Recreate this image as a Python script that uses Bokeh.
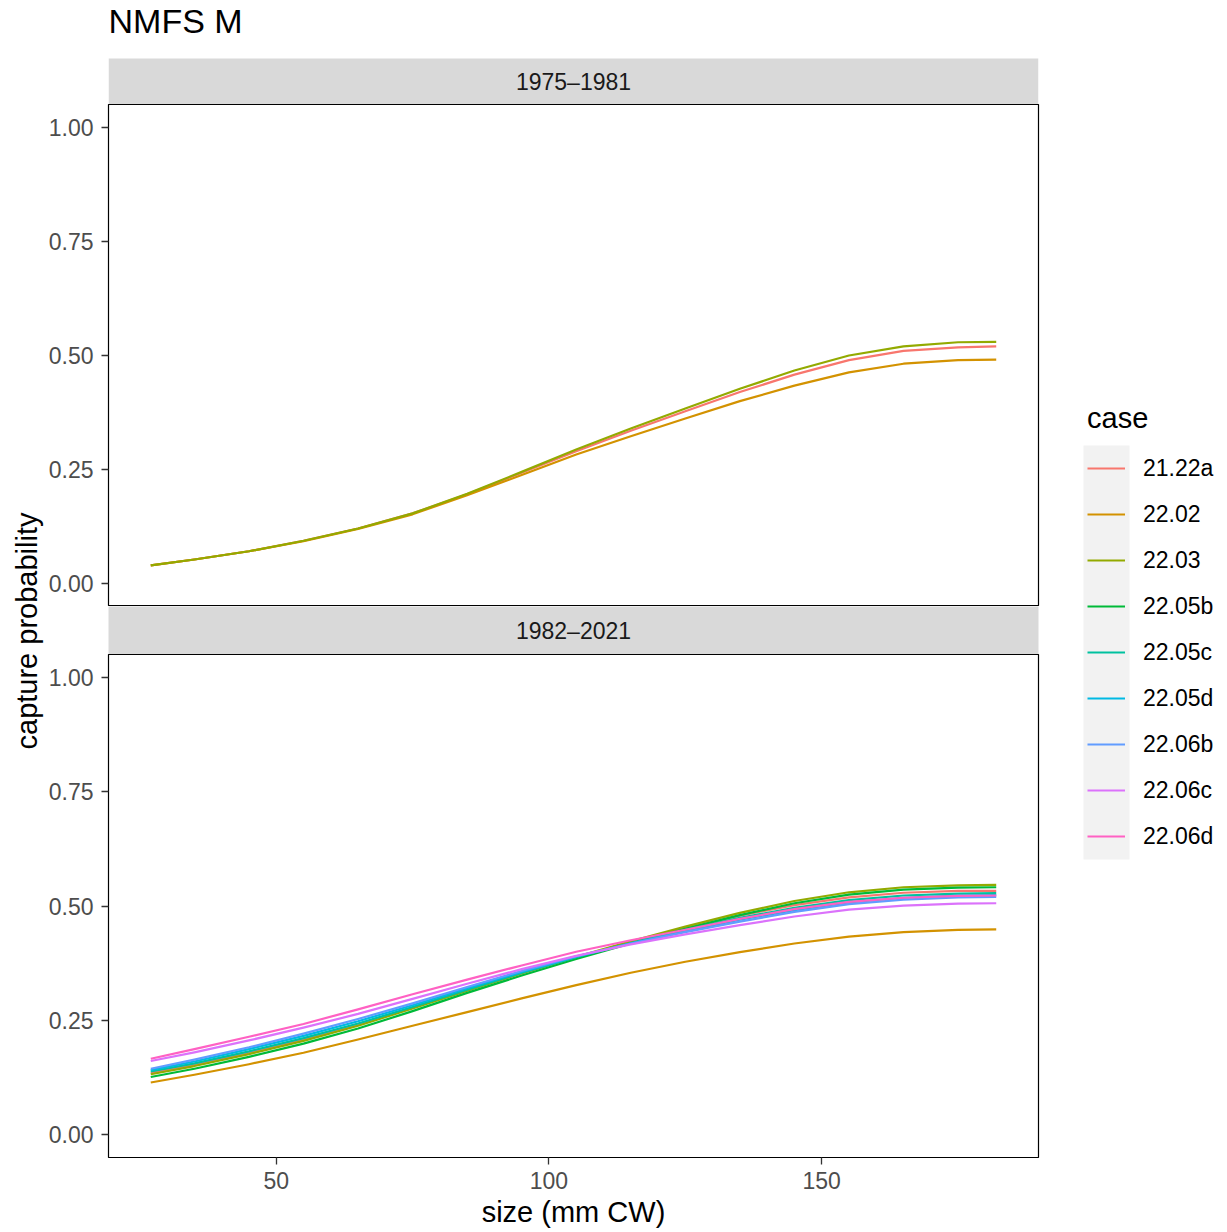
import math
from bokeh.plotting import figure
from bokeh.models import (ColumnDataSource, FixedTicker, PrintfTickFormatter,
                          Range1d, Legend, LegendItem)
from bokeh.layouts import row, column
from bokeh.embed import file_html
from bokeh.resources import INLINE
from bokeh.core.properties import value

FONT = "Liberation Sans"

# ---------------- data ----------------
plot_title = "NMFS M"
facets = ["1975\u20131981", "1982\u20132021"]
x_title = "size (mm CW)"
y_title = "capture probability"
legend_title = "case"

cases = ["21.22a", "22.02", "22.03", "22.05b", "22.05c",
         "22.05d", "22.06b", "22.06c", "22.06d"]
colors = ["#F8766D", "#D39200", "#93AA00", "#00BA38", "#00C19F",
          "#00B9E3", "#619CFF", "#DB72FB", "#FF61C3"]

size_mm = [27, 35, 45, 55, 65, 75, 85, 95, 105, 115, 125, 135, 145, 155, 165, 175, 182]

# panel 1975-1981
p1_21_22a = [0.040, 0.053, 0.071, 0.094, 0.121, 0.154, 0.196, 0.243, 0.290, 0.335,
             0.378, 0.420, 0.458, 0.490, 0.510, 0.518, 0.520]
p1_22_02 = [0.040, 0.053, 0.071, 0.093, 0.120, 0.152, 0.194, 0.238, 0.283, 0.323,
            0.362, 0.400, 0.434, 0.463, 0.482, 0.490, 0.491]
p1_22_03 = [0.040, 0.053, 0.071, 0.094, 0.121, 0.154, 0.197, 0.245, 0.294, 0.340,
            0.384, 0.427, 0.467, 0.500, 0.520, 0.529, 0.530]

# panel 1982-2021
p2_21_22a = [0.135, 0.153, 0.179, 0.208, 0.241, 0.278, 0.316, 0.353, 0.388, 0.420,
             0.451, 0.479, 0.502, 0.519, 0.529, 0.533, 0.533]
p2_22_02 = [0.114, 0.131, 0.154, 0.179, 0.208, 0.238, 0.268, 0.298, 0.327, 0.354,
            0.378, 0.399, 0.418, 0.433, 0.443, 0.448, 0.449]
p2_22_03 = [0.132, 0.150, 0.176, 0.205, 0.238, 0.276, 0.315, 0.353, 0.389, 0.423,
            0.455, 0.485, 0.511, 0.530, 0.541, 0.545, 0.546]
p2_22_05b = [0.126, 0.144, 0.170, 0.199, 0.232, 0.270, 0.310, 0.348, 0.384, 0.418,
             0.450, 0.480, 0.506, 0.525, 0.536, 0.540, 0.541]
p2_22_05c = [0.138, 0.156, 0.182, 0.211, 0.243, 0.279, 0.317, 0.354, 0.388, 0.419,
             0.448, 0.474, 0.496, 0.513, 0.523, 0.527, 0.528]
p2_22_05d = [0.141, 0.160, 0.187, 0.216, 0.248, 0.283, 0.320, 0.356, 0.389, 0.418,
             0.445, 0.470, 0.491, 0.508, 0.518, 0.523, 0.524]
p2_22_06b = [0.144, 0.164, 0.191, 0.221, 0.253, 0.287, 0.323, 0.358, 0.390, 0.418,
             0.443, 0.466, 0.487, 0.504, 0.514, 0.519, 0.520]
p2_22_06c = [0.161, 0.180, 0.206, 0.234, 0.264, 0.297, 0.330, 0.362, 0.391, 0.416,
             0.438, 0.458, 0.477, 0.492, 0.501, 0.505, 0.506]
p2_22_06d = [0.166, 0.187, 0.214, 0.242, 0.274, 0.307, 0.339, 0.370, 0.400, 0.425,
             0.448, 0.472, 0.493, 0.509, 0.518, 0.522, 0.523]

y_ticks = [0.0, 0.25, 0.5, 0.75, 1.0]
x_ticks = [50, 100, 150]

panel1 = {"21.22a": p1_21_22a, "22.02": p1_22_02, "22.03": p1_22_03}
panel2 = {"21.22a": p2_21_22a, "22.02": p2_22_02, "22.03": p2_22_03,
          "22.05b": p2_22_05b, "22.05c": p2_22_05c, "22.05d": p2_22_05d,
          "22.06b": p2_22_06b, "22.06c": p2_22_06c, "22.06d": p2_22_06d}
color_of = dict(zip(cases, colors))

# ---------------- layout constants (pixels) ----------------
LEFT_W = 44
COL_W = 996
LEG_W = 187
LEFT_B = 64
RIGHT_B = 2
STRIP1_H = 104     # title area + first strip
STRIP_H = 46
PAN1_H = 502
STRIP2_H = 48
PAN2_FRAME = 503
BOTTOM_B = 73
PAN2_H = PAN2_FRAME + BOTTOM_B
TOTAL_H = STRIP1_H + PAN1_H + STRIP2_H + PAN2_H
LINE_W = 2.2

x_lo = min(size_mm) - 0.05 * (max(size_mm) - min(size_mm))
x_hi = max(size_mm) + 0.05 * (max(size_mm) - min(size_mm))


def clean(p):
    p.xgrid.visible = False
    p.ygrid.visible = False
    p.border_fill_color = "white"


def make_panel(data, height, show_x):
    p = figure(width=COL_W, height=height,
               x_range=Range1d(x_lo, x_hi), y_range=Range1d(-0.05, 1.05),
               output_backend="svg", toolbar_location=None,
               min_border_left=LEFT_B, min_border_right=RIGHT_B,
               min_border_top=0, min_border_bottom=(BOTTOM_B if show_x else 0),
               x_axis_location=("below" if show_x else None))
    clean(p)
    p.outline_line_color = "black"
    p.outline_line_width = 1.2
    p.background_fill_color = "white"
    axes = [p.yaxis[0]] + ([p.xaxis[0]] if show_x else [])
    for ax in axes:
        ax.axis_line_color = None
        ax.major_tick_line_color = "#333333"
        ax.major_tick_line_width = 1.3
        ax.major_tick_in = 0
        ax.major_tick_out = 7
        ax.minor_tick_line_color = None
        ax.major_label_text_font = FONT
        ax.major_label_text_font_size = "23px"
        ax.major_label_text_color = "#4D4D4D"
    p.yaxis[0].major_label_standoff = 8
    p.yaxis[0].ticker = FixedTicker(ticks=y_ticks)
    p.yaxis[0].formatter = PrintfTickFormatter(format="%.2f")
    if show_x:
        xa = p.xaxis[0]
        xa.ticker = FixedTicker(ticks=x_ticks)
        xa.major_label_standoff = 7
        xa.axis_label = x_title
        xa.axis_label_text_font = FONT
        xa.axis_label_text_font_size = "29px"
        xa.axis_label_text_font_style = "normal"
        xa.axis_label_text_color = "black"
        xa.axis_label_standoff = 4
    for c in cases:
        if c in data:
            src = ColumnDataSource(dict(x=size_mm, y=data[c]))
            p.line("x", "y", source=src, line_color=color_of[c],
                   line_width=LINE_W, line_join="round")
    return p


# first strip + plot title (frame covers both; strip drawn as a band)
strip1 = figure(width=COL_W, height=STRIP1_H,
                x_range=Range1d(0, 1), y_range=Range1d(0, STRIP1_H),
                output_backend="svg", toolbar_location=None,
                min_border_left=LEFT_B, min_border_right=RIGHT_B,
                min_border_top=0, min_border_bottom=0,
                x_axis_location=None, y_axis_location=None)
clean(strip1)
strip1.outline_line_color = None
strip1.background_fill_color = "white"
strip1.quad(left=[0], right=[1], bottom=[0], top=[STRIP_H],
            fill_color="#D9D9D9", line_color=None)
s1src = ColumnDataSource(dict(x=[0.5], y=[STRIP_H / 2.0], t=[facets[0]]))
strip1.text("x", "y", text="t", source=s1src, text_align="center",
            text_baseline="middle", text_font=value(FONT),
            text_font_size="23px", text_color="#1A1A1A")
tsrc = ColumnDataSource(dict(x=[0], y=[STRIP1_H - 20], t=[plot_title]))
strip1.text("x", "y", text="t", source=tsrc, text_align="left",
            text_baseline="middle", text_font=value(FONT),
            text_font_size="34px", text_color="black")

pan1 = make_panel(panel1, PAN1_H, False)

strip2 = figure(width=COL_W, height=STRIP2_H,
                x_range=Range1d(0, 1), y_range=Range1d(0, 1),
                output_backend="svg", toolbar_location=None,
                min_border_left=LEFT_B, min_border_right=RIGHT_B,
                min_border_top=0, min_border_bottom=0,
                x_axis_location=None, y_axis_location=None)
clean(strip2)
strip2.outline_line_color = None
strip2.background_fill_color = "#D9D9D9"
s2src = ColumnDataSource(dict(x=[0.5], y=[0.5], t=[facets[1]]))
strip2.text("x", "y", text="t", source=s2src, text_align="center",
            text_baseline="middle", text_font=value(FONT),
            text_font_size="23px", text_color="#1A1A1A")

pan2 = make_panel(panel2, PAN2_H, True)

# left column with the shared y-axis title
left = figure(width=LEFT_W, height=TOTAL_H, x_range=Range1d(0, LEFT_W),
              y_range=Range1d(0, TOTAL_H), output_backend="svg",
              toolbar_location=None, min_border=0,
              x_axis_location=None, y_axis_location=None)
clean(left)
left.outline_line_color = None
panels_mid = STRIP1_H + (PAN1_H + STRIP2_H + PAN2_FRAME) / 2.0
lsrc = ColumnDataSource(dict(x=[26], y=[TOTAL_H - panels_mid], t=[y_title]))
left.text("x", "y", text="t", source=lsrc, angle=math.pi / 2,
          text_align="center", text_baseline="middle", text_font=value(FONT),
          text_font_size="29px", text_color="black")

# legend column
leg = figure(width=LEG_W, height=TOTAL_H, x_range=Range1d(0, LEG_W),
             y_range=Range1d(0, TOTAL_H), output_backend="svg",
             toolbar_location=None, min_border=0,
             x_axis_location=None, y_axis_location=None)
clean(leg)
leg.outline_line_color = None
key_h = 46
key_bottom = TOTAL_H - 859
leg.quad(left=[43], right=[89], bottom=[key_bottom],
         top=[key_bottom + key_h * len(cases)],
         fill_color="#F2F2F2", line_color=None)
items = []
for c in cases:
    r = leg.line(x=[-100, -90], y=[-100, -100], line_color=color_of[c],
                 line_width=LINE_W)
    items.append(LegendItem(label=c, renderers=[r]))
legend = Legend(items=items, location=(47, key_bottom), title=legend_title,
                glyph_width=38, glyph_height=key_h, label_height=key_h,
                label_standoff=18, spacing=0, padding=0, margin=0,
                border_line_color=None, background_fill_alpha=0,
                label_text_font=FONT, label_text_font_size="23px",
                label_text_color="black",
                title_text_font=FONT, title_text_font_size="29px",
                title_text_font_style="normal", title_text_color="black",
                title_standoff=10)
leg.add_layout(legend)

layout = row(left, column(strip1, pan1, strip2, pan2), leg)

open("out.html", "w").write(file_html(layout, INLINE))
